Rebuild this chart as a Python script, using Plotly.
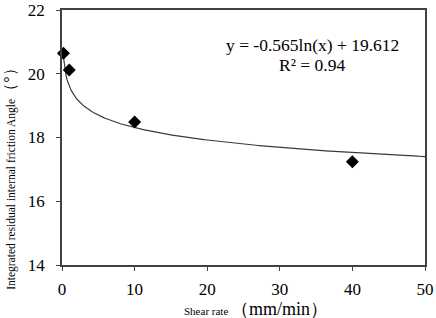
import numpy as np
import plotly.graph_objects as go

# data
shear_rate = [0.2, 1, 10, 40]
friction_angle = [20.64, 20.12, 18.49, 17.24]

# trendline coefficients shown on chart
coef_a = -0.565
coef_b = 19.612
r2 = 0.94

x_ticks = [0, 10, 20, 30, 40, 50]
y_ticks = [14, 16, 18, 20, 22]

fit_x = np.linspace(0.2, 50, 400)
fit_y = coef_a * np.log(fit_x) + coef_b

fig = go.Figure()
fig.add_trace(go.Scatter(x=fit_x, y=fit_y, mode="lines",
                         line=dict(color="#3a3a3a", width=1.2), showlegend=False,
                         hoverinfo="skip"))
fig.add_trace(go.Scatter(x=shear_rate, y=friction_angle, mode="markers",
                         marker=dict(symbol="diamond", size=10, color="black"),
                         showlegend=False, cliponaxis=False))

axis_common = dict(showgrid=False, zeroline=False, showline=True, linecolor="#404040",
                   linewidth=1.5, mirror=True, ticks="outside", ticklen=4,
                   tickcolor="#404040", tickwidth=1, automargin=False,
                   tickfont=dict(family="Liberation Serif", size=17, color="black"))

fig.update_xaxes(range=[0, 50], tickvals=x_ticks, ticklabelstandoff=4, **axis_common)
fig.update_yaxes(range=[14, 22], tickvals=y_ticks, ticklabelstandoff=8, **axis_common)

eq_font = dict(family="Liberation Serif", size=17.5, color="black")
fig.add_annotation(xref="paper", yref="paper", x=0.69, y=0.863, showarrow=False,
                   xanchor="center", yanchor="middle",
                   text=f"y = {coef_a}ln(x) + {coef_b}", font=eq_font)
fig.add_annotation(xref="paper", yref="paper", x=0.69, y=0.784, showarrow=False,
                   xanchor="center", yanchor="middle",
                   text=f"R² = {r2}", font=eq_font)

fig.add_annotation(xref="paper", yref="paper", x=-0.143, y=0.35, showarrow=False,
                   textangle=-90, xanchor="center", yanchor="middle",
                   text='Integrated residual internal friction Angle<span style="font-size:16px">（°）</span>',
                   font=dict(family="Liberation Serif", size=11.5, color="black"),
                   )

fig.add_annotation(xref="paper", yref="paper", x=0.535, y=-0.172, showarrow=False,
                   xanchor="center", yanchor="middle",
                   text='Shear rate <span style="font-size:18px">（mm/min）</span>',
                   font=dict(family="Liberation Serif", size=11, color="black"))

fig.update_layout(width=436, height=318, margin=dict(l=62, r=11, t=10, b=53),
                  paper_bgcolor="white", plot_bgcolor="white")

fig.write_html("out.html", config={"displayModeBar": False},
               post_script="document.body.style.margin='0';")
